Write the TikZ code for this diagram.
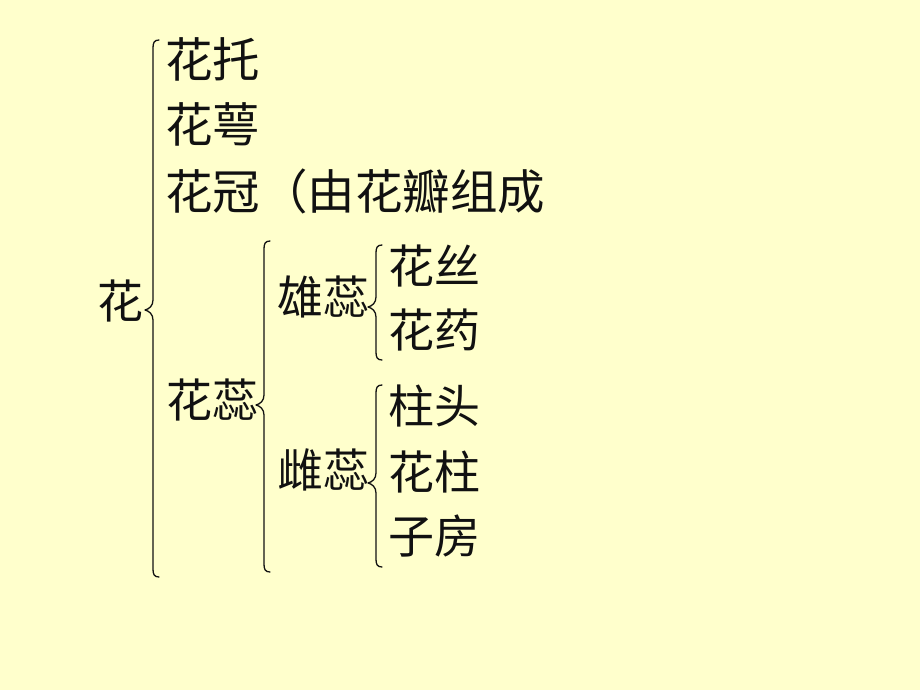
\documentclass[tikz,border=0pt]{standalone}
\usepackage{fontspec}
\newfontfamily\cjk{Noto Sans CJK SC}
\definecolor{bgyellow}{HTML}{FFFFCC}
\definecolor{ink}{HTML}{111111}
\tikzset{
  lbl/.style={anchor=west, inner sep=0pt, outer sep=0pt, text=ink, font=\cjk\fontsize{46}{52}\selectfont},
  lblbig/.style={lbl, font=\cjk\fontsize{47.5}{52}\selectfont},
  bracestyle/.style={draw=ink, line width=1.3pt, line cap=round, line join=round}
}
\newcommand\pptbrace[4]{%
  \draw[bracestyle] ({#1+6},{#2}) .. controls ({#1+1},{#2}) and ({#1},{#2+3}) .. ({#1},{#2+8})
    -- ({#1},{#3-10}) .. controls ({#1},{#3-4}) and ({#1-4},{#3-1}) .. ({#1-8},{#3})
    .. controls ({#1-4},{#3+1}) and ({#1},{#3+4}) .. ({#1},{#3+10})
    -- ({#1},{#4-8}) .. controls ({#1},{#4-3}) and ({#1+1},{#4}) .. ({#1+6},{#4});}
\begin{document}
\begin{tikzpicture}[x=1pt,y=-1pt]
\fill[bgyellow] (0,0) rectangle (920,690);
\useasboundingbox (0,0) rectangle (920,690);
% labels
\node[lbl] (hua) at (97,301) {花};
\node[lblbig] (huatuo) at (165,59) {花托};
\node[lblbig] (huae) at (165,124) {花萼};
\node[lblbig] (huaguan) at (165,191) {花冠（由花瓣组成};
\node[lbl] (huarui) at (166,400) {花蕊};
\node[lbl] (xiongrui) at (277,297) {雄蕊};
\node[lbl] (cirui) at (277,470) {雌蕊};
\node[lbl] (huasi) at (388,266) {花丝};
\node[lbl] (huayao) at (388,330) {花药};
\node[lbl] (zhutou) at (388,406) {柱头};
\node[lbl] (huazhu) at (388,472) {花柱};
\node[lbl] (zifang) at (388,536) {子房};
% braces
\pptbrace{153}{40}{310}{577}
\pptbrace{264}{241}{405}{572}
\pptbrace{376}{245}{307}{360}
\pptbrace{376}{385}{483}{567}
\end{tikzpicture}
\end{document}
